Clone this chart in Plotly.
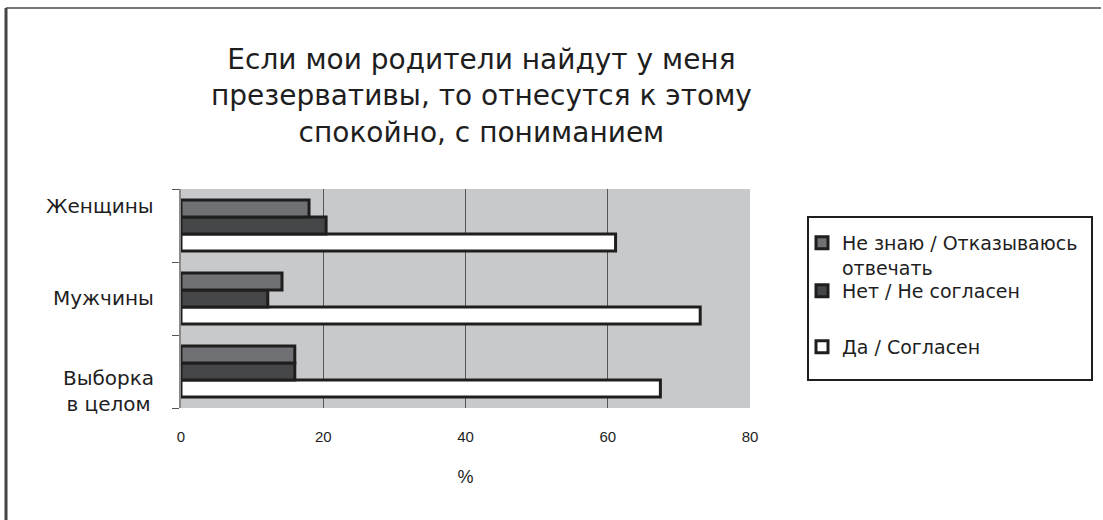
import plotly.graph_objects as go

# Survey answers, % of respondents
categories = ["Выборка<br>в целом", "Мужчины", "Женщины"]
series_names = ["Да / Согласен", "Нет / Не согласен", "Не знаю / Отказываюсь<br>отвечать"]
yes_vals = [67.4, 73.0, 61.1]
no_vals = [16.0, 12.2, 20.4]
dunno_vals = [16.0, 14.2, 18.0]
x_ticks = [0, 20, 40, 60, 80]
title_text = "Если мои родители найдут у меня<br>презервативы, то отнесутся к этому<br>спокойно, с пониманием"

W, H = 1103, 520
ML, MR, MT, MB = 181, 353, 189, 112
PW, PH = W - ML - MR, H - MT - MB


def px(x):
    return (x - ML) / PW


def py(y):
    return (H - MB - y) / PH


colors = ["#ffffff", "#454648", "#707174"]
values = [yes_vals, no_vals, dunno_vals]
# each series gets its own legend box entry, stacked top to bottom
legend_ids = ["legend3", "legend2", "legend"]
legend_tops = [328, 272, 224]

fig = go.Figure()
for name, vals, col, lg in zip(series_names, values, colors, legend_ids):
    fig.add_trace(go.Bar(
        y=categories, x=vals, name=name, orientation="h",
        marker=dict(color=col, line=dict(color="#1e1e1e", width=3)),
        legend=lg,
    ))

label_font = dict(family="DejaVu Sans", size=20, color="#1e1e1e")
annotations = [
    dict(text=categories[2], x=px(156), y=py(206), xref="paper", yref="paper",
         xanchor="right", yanchor="middle", showarrow=False, font=label_font, align="right"),
    dict(text=categories[1], x=px(156), y=py(298), xref="paper", yref="paper",
         xanchor="right", yanchor="middle", showarrow=False, font=label_font, align="right"),
    dict(text=categories[0], x=px(156), y=py(391), xref="paper", yref="paper",
         xanchor="right", yanchor="middle", showarrow=False, font=label_font, align="center"),
    dict(text=title_text, x=px(481), y=py(96), xref="paper", yref="paper",
         xanchor="center", yanchor="middle", showarrow=False,
         font=dict(family="DejaVu Sans", size=28, color="#1e1e1e"), align="center"),
]

shapes = [
    # legend frame
    dict(type="rect", xref="paper", yref="paper", x0=px(808), x1=px(1092),
         y0=py(380), y1=py(217), line=dict(color="#1e1e1e", width=2)),
    # outer frame lines
    dict(type="line", xref="paper", yref="paper", x0=px(6), x1=px(1101),
         y0=py(8), y1=py(8), line=dict(color="#777777", width=2)),
    dict(type="line", xref="paper", yref="paper", x0=px(6), x1=px(6),
         y0=py(8), y1=py(522), line=dict(color="#444444", width=3)),
]

legend_style = dict(xanchor="left", yanchor="top", valign="top",
                    font=dict(family="DejaVu Sans", size=19, color="#1e1e1e"),
                    bgcolor="rgba(0,0,0,0)", borderwidth=0, itemwidth=30)
legends = {lg: dict(x=px(802), y=py(top), **legend_style)
           for lg, top in zip(legend_ids, legend_tops)}

fig.update_layout(
    width=W, height=H,
    margin=dict(l=ML, r=MR, t=MT, b=MB),
    paper_bgcolor="white", plot_bgcolor="#c8c9cb",
    barmode="group", bargap=0.3, bargroupgap=0,
    showlegend=True,
    annotations=annotations,
    shapes=shapes,
    xaxis=dict(range=[0, 80], tickvals=x_ticks, ticktext=[str(v) for v in x_ticks],
               showgrid=True, gridcolor="#555555", gridwidth=1, zeroline=False,
               ticks="", ticklabelstandoff=18,
               tickfont=dict(family="Liberation Sans", size=15, color="#1e1e1e"),
               title=dict(text="%", standoff=26,
                          font=dict(family="Liberation Sans", size=18, color="#1e1e1e")),
               showline=False),
    yaxis=dict(showticklabels=False, tickson="boundaries", ticks="outside",
               ticklen=7, tickcolor="#555555", showgrid=False, zeroline=False,
               showline=True, linecolor="#8a8a8a", linewidth=2),
    **legends,
)

fig.write_html("out.html")
